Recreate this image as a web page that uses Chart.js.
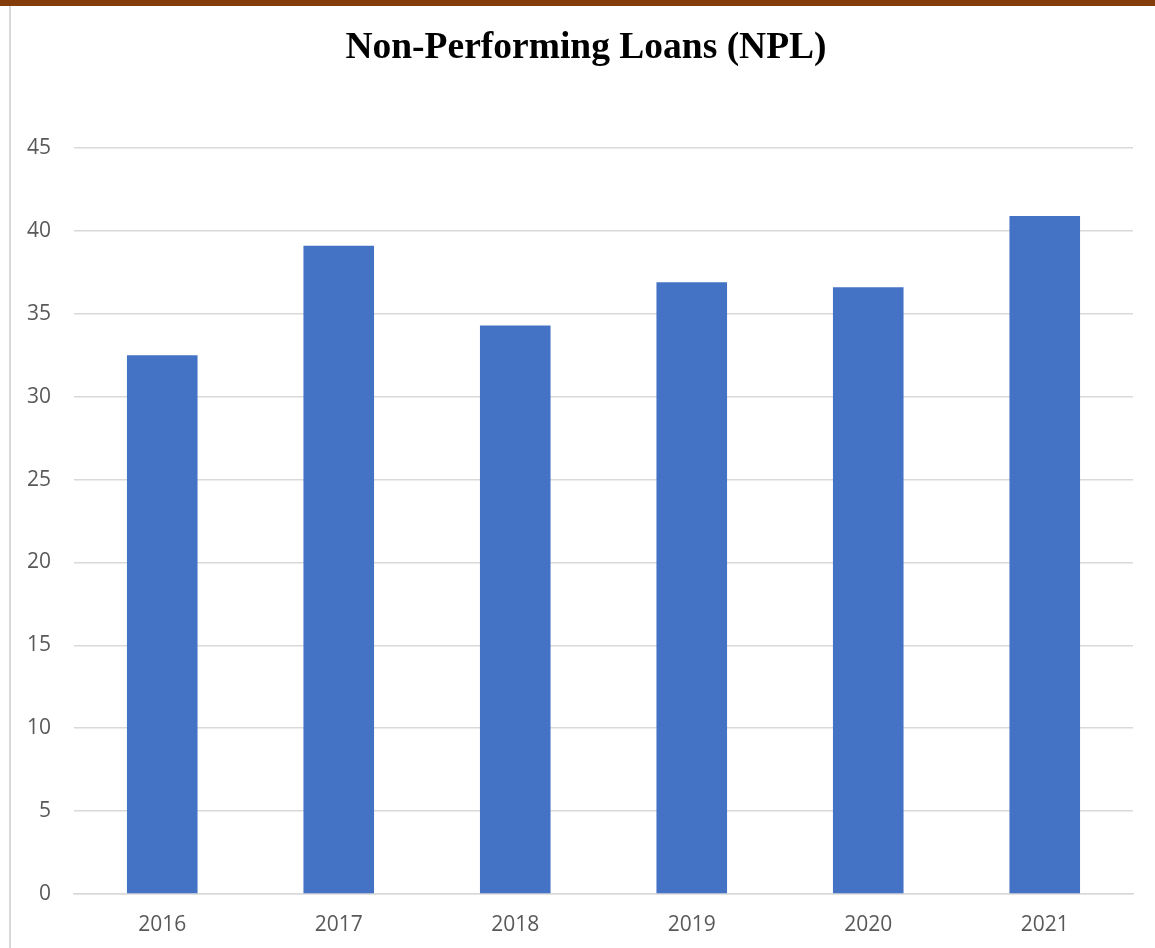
<!DOCTYPE html>
<html>
<head>
<meta charset="utf-8">
<title>Non-Performing Loans (NPL)</title>
<script src="https://cdn.jsdelivr.net/npm/chart.js@4.4.1/dist/chart.umd.min.js"></script>
<style>
    html, body {
        margin: 0;
        padding: 0;
        width: 1155px;
        height: 948px;
        overflow: hidden;
        background: #fff;
    }
    .top-rule {
        position: absolute;
        left: 0;
        top: 0;
        width: 1155px;
        height: 6px;
        background: #843c0c;
    }
    .frame {
        position: absolute;
        left: 9px;
        top: 6px;
        width: 1152px;
        height: 942px;
        border-left: 2px solid #d9d9d9;
    }
    .chart-box {
        position: absolute;
        left: 11px;
        top: 6px;
        width: 1150px;
        height: 942px;
    }
</style>
</head>
<body>
<div class="top-rule"></div>
<div class="frame"></div>
<div class="chart-box"><canvas id="nplChart"></canvas></div>

<script>
// --- Data ---
const years = ['2016', '2017', '2018', '2019', '2020', '2021'];
const nplValues = [32.5, 39.1, 34.3, 36.9, 36.6, 40.9];
const yTicks = [0, 5, 10, 15, 20, 25, 30, 35, 40, 45];

const gridColor = '#d9d9d9';
const labelColor = '#595959';
const labelFont = { family: '"Open Sans", "Liberation Sans", sans-serif', size: 21 };

const ctx = document.getElementById('nplChart').getContext('2d');

new Chart(ctx, {
    type: 'bar',
    data: {
        labels: years,
        datasets: [{
            label: 'NPL',
            data: nplValues,
            backgroundColor: '#4472c4',
            borderWidth: 0,
            categoryPercentage: 1.0,
            barPercentage: 0.4
        }]
    },
    options: {
        responsive: true,
        maintainAspectRatio: false,
        animation: false,
        layout: {
            padding: 0
        },
        plugins: {
            legend: { display: false },
            tooltip: { enabled: false },
            title: {
                display: true,
                text: 'Non-Performing Loans (NPL)',
                color: '#000',
                font: { family: '"Liberation Serif", "Times New Roman", serif', size: 37.5, weight: 'bold', lineHeight: 1.2 },
                padding: { top: 20, bottom: 77 }
            }
        },
        scales: {
            x: {
                grid: { display: false, drawTicks: false },
                border: { display: true, color: gridColor, width: 1.5 },
                ticks: { color: labelColor, font: labelFont, padding: 18 },
                afterFit: (scale) => { scale.height = 54; }
            },
            y: {
                min: 0,
                max: 45,
                afterBuildTicks: (scale) => {
                    scale.ticks = yTicks.map(v => ({ value: v }));
                },
                grid: { color: gridColor, lineWidth: 1.5, drawTicks: false },
                border: { display: false },
                ticks: { color: labelColor, font: labelFont, padding: 23 },
                afterFit: (scale) => { scale.width = 63; }
            },
            // empty right-hand axis, only keeps a margin right of the plot
            // so the title stays centred on the whole canvas
            gutter: {
                position: 'right',
                grid: { display: false, drawTicks: false },
                border: { display: false },
                ticks: { display: false },
                afterFit: (scale) => { scale.width = 28; }
            }
        }
    }
});
</script>
</body>
</html>
